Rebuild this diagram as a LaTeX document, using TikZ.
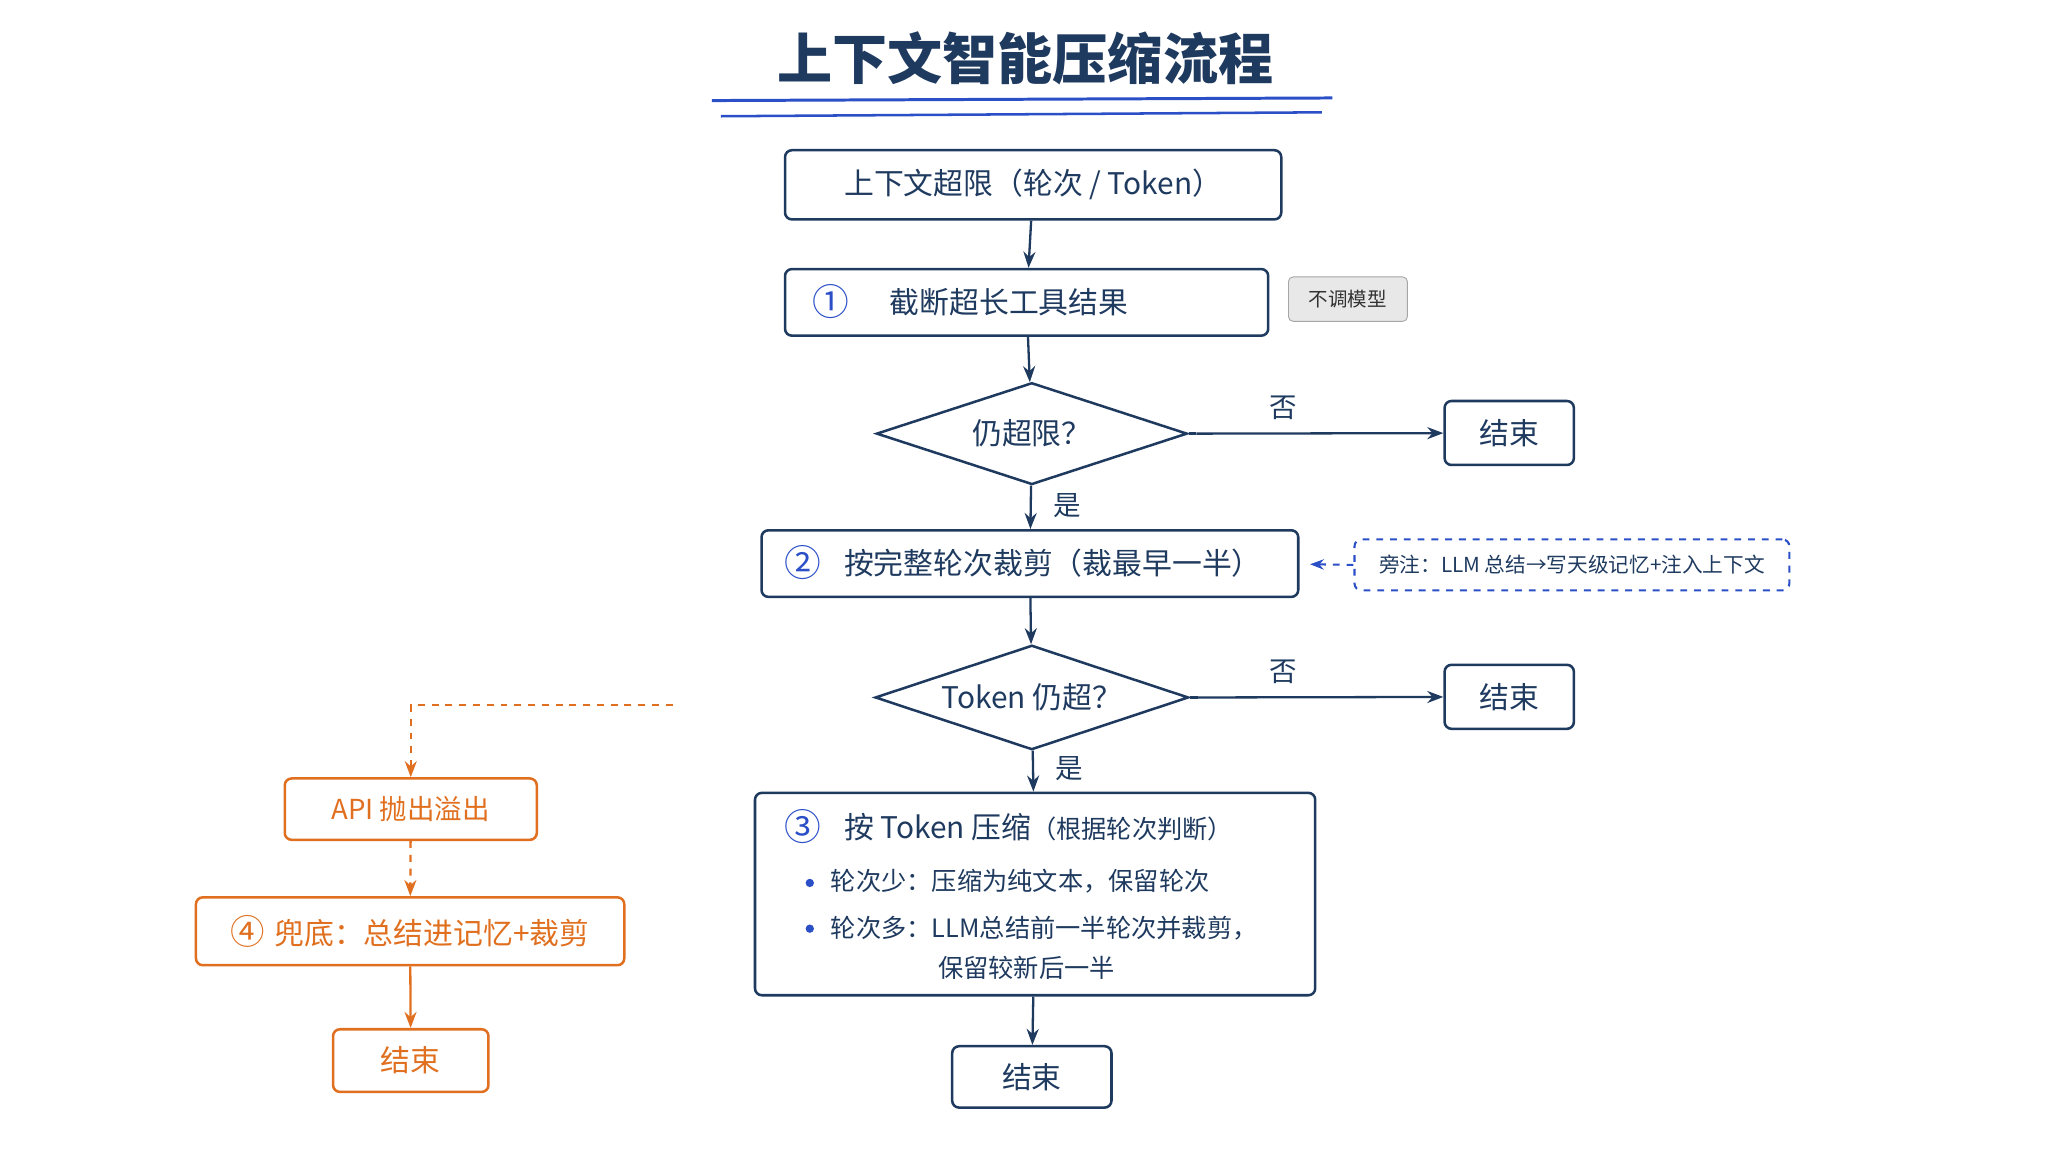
\documentclass[tikz,border=0pt]{standalone}
\usepackage{fontspec}
\setmainfont{Noto Sans CJK SC}
\usetikzlibrary{shapes.geometric,arrows.meta}
\definecolor{navy}{HTML}{1F3A5F}
\definecolor{cblue}{HTML}{2B4FC7}
\definecolor{corange}{HTML}{E07020}
\definecolor{tagfill}{HTML}{E8E8E8}
\tikzset{
  box/.style={draw=navy,line width=1.1pt,rounded corners=3pt,text=navy,font=\fontsize{13}{15}\selectfont,inner sep=0pt},
  dia/.style={draw=navy,line width=1.1pt,diamond,aspect=3,inner sep=0pt,text=navy,font=\fontsize{13}{15}\selectfont},
  obox/.style={draw=corange,line width=1.1pt,rounded corners=3pt,text=corange,font=\fontsize{12}{14}\selectfont,inner sep=0pt},
  arr/.style={draw=navy,line width=1pt,-{Stealth[length=7pt]}},
  oarr/.style={draw=corange,line width=1pt,-{Stealth[length=7pt]}},
  lbl/.style={text=navy,font=\fontsize{12}{14}\selectfont},
  num/.style={text=cblue,font=\fontsize{16}{16}\selectfont}
}
\begin{document}
\begin{tikzpicture}[x=0.02cm,y=-0.02cm]
\useasboundingbox (0,0) rectangle (1568,882);
\node[text=navy,font=\bfseries\fontsize{24}{28}\selectfont] (title) at (785,45) {上下文智能压缩流程};
\draw[cblue,line width=1.3pt] (545,77) -- (1020,75);
\draw[cblue,line width=1.1pt] (552,89) -- (1012,86);

\node[box,minimum width=7.6cm,minimum height=1.06cm] (b1) at (791,141.5) {上下文超限（轮次 / Token）};
\node[box,minimum width=7.4cm,minimum height=1.02cm] (b2) at (786,231.5) {};
\node[num] at (636,231) {①};
\node[text=navy,font=\fontsize{13}{15}\selectfont,anchor=west] at (675,231) {截断超长工具结果};
\node[draw=gray!70,fill=tagfill,rounded corners=2pt,minimum width=1.82cm,minimum height=0.68cm,font=\fontsize{8.5}{10}\selectfont,text=black!80,inner sep=0pt] (tag) at (1032,229) {不调模型};

\node[dia,minimum width=4.76cm,minimum height=1.56cm] (d1) at (790,332) {仍超限？};
\node[box,minimum width=1.98cm,minimum height=0.98cm] (e1) at (1155.5,331.5) {结束};

\node[box,minimum width=8.22cm,minimum height=1.02cm] (b3) at (788.5,431.5) {};
\node[num] at (615,431) {②};
\node[text=navy,font=\fontsize{13}{15}\selectfont,anchor=west] at (640,431) {按完整轮次裁剪（裁最早一半）};
\node[draw=cblue,dashed,line width=0.9pt,rounded corners=3pt,minimum width=6.66cm,minimum height=0.78cm,text=navy,font=\fontsize{9}{11}\selectfont,inner sep=0pt] (note) at (1203.5,432.5) {旁注：LLM 总结→写天级记忆+注入上下文};

\node[dia,minimum width=4.8cm,minimum height=1.6cm] (d2) at (790,534) {Token 仍超？};
\node[box,minimum width=1.98cm,minimum height=0.98cm] (e2) at (1155.5,533.5) {结束};

\node[box,minimum width=8.58cm,minimum height=3.1cm] (b4) at (792.5,684.5) {};
\node[num] at (615,633) {③};
\node[text=navy,anchor=west] at (640,633) {\fontsize{13}{15}\selectfont 按 Token 压缩\fontsize{11}{13}\selectfont（根据轮次判断）};
\fill[cblue] (620,676) circle (3.2);
\fill[cblue] (620,711) circle (3.2);
\node[text=navy,anchor=west,font=\fontsize{11}{13}\selectfont] at (630,675) {轮次少：压缩为纯文本，保留轮次};
\node[text=navy,anchor=west,font=\fontsize{11}{13}\selectfont] at (630,711) {轮次多：LLM总结前一半轮次并裁剪，};
\node[text=navy,anchor=west,font=\fontsize{11}{13}\selectfont] at (712,741) {保留较新后一半};
\node[box,minimum width=2.44cm,minimum height=0.94cm] (e3) at (790,824.5) {结束};

\node[obox,minimum width=3.86cm,minimum height=0.94cm] (api) at (314.5,619.5) {API 抛出溢出};
\node[obox,minimum width=6.56cm,minimum height=1.04cm,font=\fontsize{13}{15}\selectfont] (b5) at (314,713) {\textcolor{corange}{\fontsize{15}{15}\selectfont ④}\hspace{0.3em}兜底：总结进记忆+裁剪};
\node[obox,minimum width=2.38cm,minimum height=0.96cm,font=\fontsize{13}{15}\selectfont] (e4) at (314.5,812) {结束};
\coordinate (ostart) at (515,540);
\coordinate (d1e) at (916,332);
\coordinate (d2e) at (917,534);
\coordinate (nt) at (1003,432);

\draw[arr] (b1) -- (b2);
\draw[arr] (b2) -- (d1);
\draw[navy,line width=1pt] (d1.east) -- (d1e);
\draw[arr] (d1e) -- node[lbl,pos=0.35,above=2pt] {否} (e1);
\draw[arr] (d1) -- node[lbl,right=6pt,pos=0.45] {是} (b3);
\draw[arr] (b3) -- (d2);
\draw[navy,line width=1pt] (d2.east) -- (d2e);
\draw[arr] (d2e) -- node[lbl,pos=0.35,above=2pt] {否} (e2);
\draw[arr] (d2) -- node[lbl,right=6pt,pos=0.45] {是} (b4);
\draw[arr] (b4) -- (e3);
\draw[draw=cblue,dashed,line width=0.9pt,-{Stealth[length=6pt]}] (note.west) -- (nt);
\draw[oarr,dashed] (ostart) -| (api);
\draw[oarr,dashed] (api) -- (b5);
\draw[oarr] (b5) -- (e4);
\end{tikzpicture}
\end{document}
